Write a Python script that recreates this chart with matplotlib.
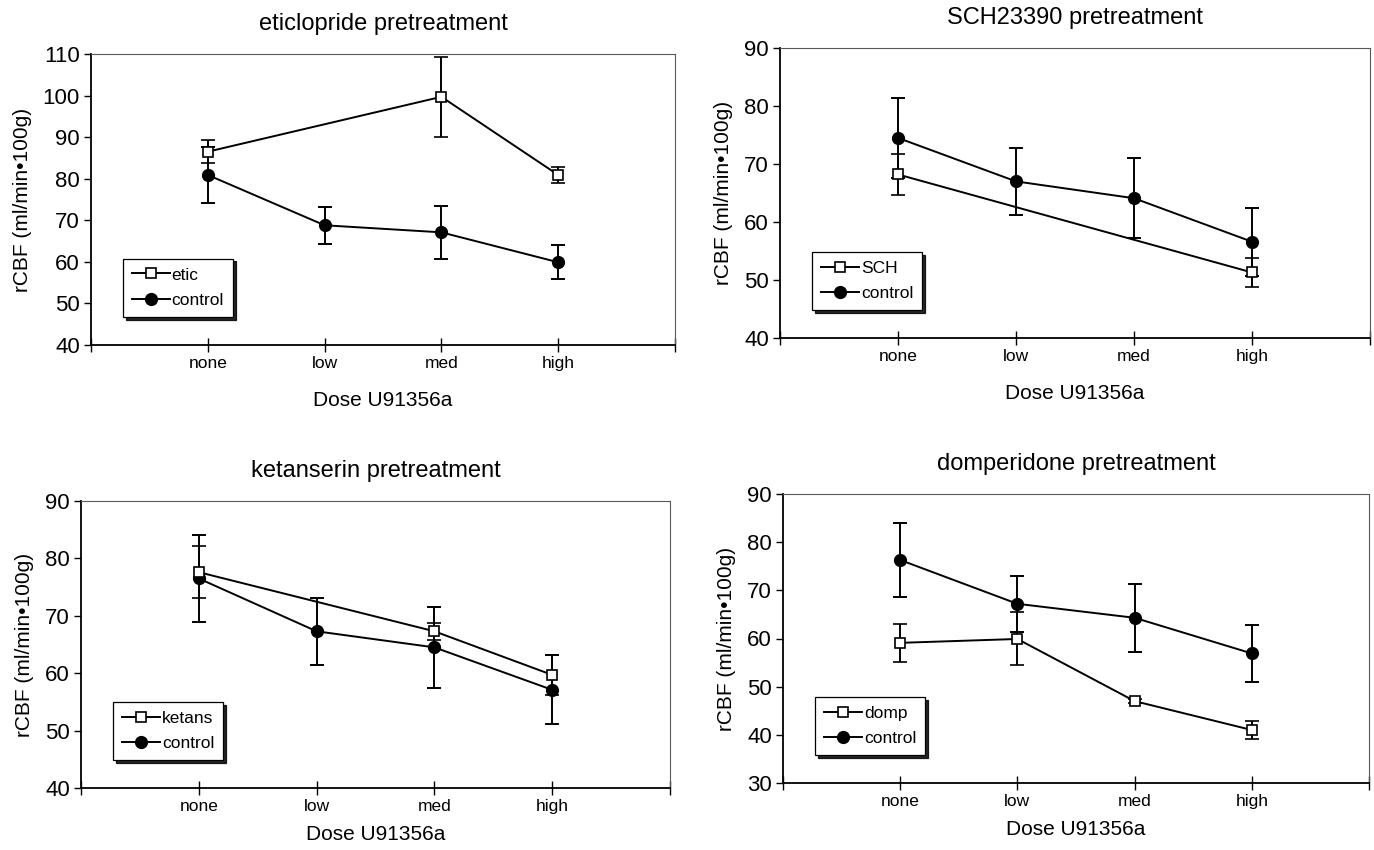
import matplotlib.pyplot as plt
from matplotlib.lines import Line2D
import numpy as np

plt.rcParams['font.family'] = ['Liberation Sans', 'DejaVu Sans']

# dose categories
doses = ['none', 'low', 'med', 'high']

# eticlopride panel
etic = [86.5, np.nan, 99.7, 80.9]
etic_err = [2.7, np.nan, 9.6, 2.0]
etic_ctrl = [80.9, 68.8, 67.1, 59.9]
etic_ctrl_err = [6.7, 4.5, 6.4, 4.1]

# SCH23390 panel
sch = [68.2, np.nan, np.nan, 51.3]
sch_err = [3.5, np.nan, np.nan, 2.5]
sch_ctrl = [74.5, 67.0, 64.1, 56.6]
sch_ctrl_err = [6.9, 5.8, 6.9, 5.9]

# ketanserin panel
ket = [77.6, np.nan, 67.3, 59.7]
ket_err = [4.5, np.nan, 1.5, 3.5]
ket_ctrl = [76.5, 67.3, 64.5, 57.1]
ket_ctrl_err = [7.6, 5.8, 7.0, 6.0]

# domperidone panel
domp = [59.1, 59.9, 47.0, 41.0]
domp_err = [3.9, 5.5, 0.4, 1.9]
domp_ctrl = [76.3, 67.2, 64.3, 56.9]
domp_ctrl_err = [7.6, 5.8, 7.0, 5.9]

panels = [
    ('eticlopride pretreatment', 'etic', etic, etic_err, etic_ctrl, etic_ctrl_err, (40, 110),
     [91, 345, 584, 291], 14),
    ('SCH23390 pretreatment', 'SCH', sch, sch_err, sch_ctrl, sch_ctrl_err, (40, 90),
     [780, 338, 590, 290], 14),
    ('ketanserin pretreatment', 'ketans', ket, ket_err, ket_ctrl, ket_ctrl_err, (40, 90),
     [81, 788, 589, 287], 8),
    ('domperidone pretreatment', 'domp', domp, domp_err, domp_ctrl, domp_ctrl_err, (30, 90),
     [783, 783, 586, 289], 8),
]

W, H = 1374, 850
fig = plt.figure(figsize=(W / 100, H / 100), dpi=100)

x = np.arange(1, len(doses) + 1)

for title, name, drug, drug_err, ctrl, ctrl_err, ylim, box, xpad in panels:
    l, b, w, h = box
    ax = fig.add_axes([l / W, 1 - b / H, w / W, h / H])

    drug = np.array(drug, dtype=float)
    drug_err = np.array(drug_err, dtype=float)
    ok = ~np.isnan(drug)

    ax.errorbar(x[ok], drug[ok], yerr=drug_err[ok], color='black', lw=1.4,
                marker='s', ms=7.5, mfc='white', mec='black', mew=1.2,
                capsize=5, capthick=1.4, elinewidth=1.4, zorder=3)
    ax.errorbar(x, ctrl, yerr=ctrl_err, color='black', lw=1.4,
                marker='o', ms=8.5, mfc='black', mec='black',
                capsize=5, capthick=1.4, elinewidth=1.4, zorder=2)

    ax.set_xlim(0, 5)
    ax.set_ylim(*ylim)
    ax.set_yticks(np.arange(ylim[0], ylim[1] + 1, 10))
    ax.set_xticks(np.arange(0, 6))
    ax.set_xticklabels([''] + doses + [''], fontsize=12.5)
    ax.tick_params(axis='y', direction='out', length=5, width=1, labelsize=16, pad=3)
    ax.tick_params(axis='x', direction='inout', length=10, width=1, pad=3)

    for s in ['left', 'bottom']:
        ax.spines[s].set_linewidth(1.3)
    for s in ['top', 'right']:
        ax.spines[s].set_linewidth(0.8)
        ax.spines[s].set_color('0.35')

    ax.set_title(title, fontsize=17, pad=17)
    ax.set_xlabel('Dose U91356a', fontsize=15, labelpad=xpad)
    ax.set_ylabel('rCBF (ml/min\u2022100g)', fontsize=15, labelpad=8)

    handles = [
        Line2D([], [], color='black', lw=1.4, marker='s', ms=7.5, mfc='white', mec='black', mew=1.2),
        Line2D([], [], color='black', lw=1.4, marker='o', ms=8.5, mfc='black', mec='black'),
    ]
    leg = ax.legend(handles, [name, 'control'], loc='lower left',
                    bbox_to_anchor=(0.055, 0.097), borderaxespad=0,
                    fancybox=False, edgecolor='black', framealpha=1,
                    shadow={'color': 'black', 'alpha': 0.85}, fontsize=12.5,
                    handlelength=2.2, handletextpad=0.1, borderpad=0.5, labelspacing=0.6)
    leg.get_frame().set_linewidth(0.9)

fig.savefig('out.png', dpi=100)
